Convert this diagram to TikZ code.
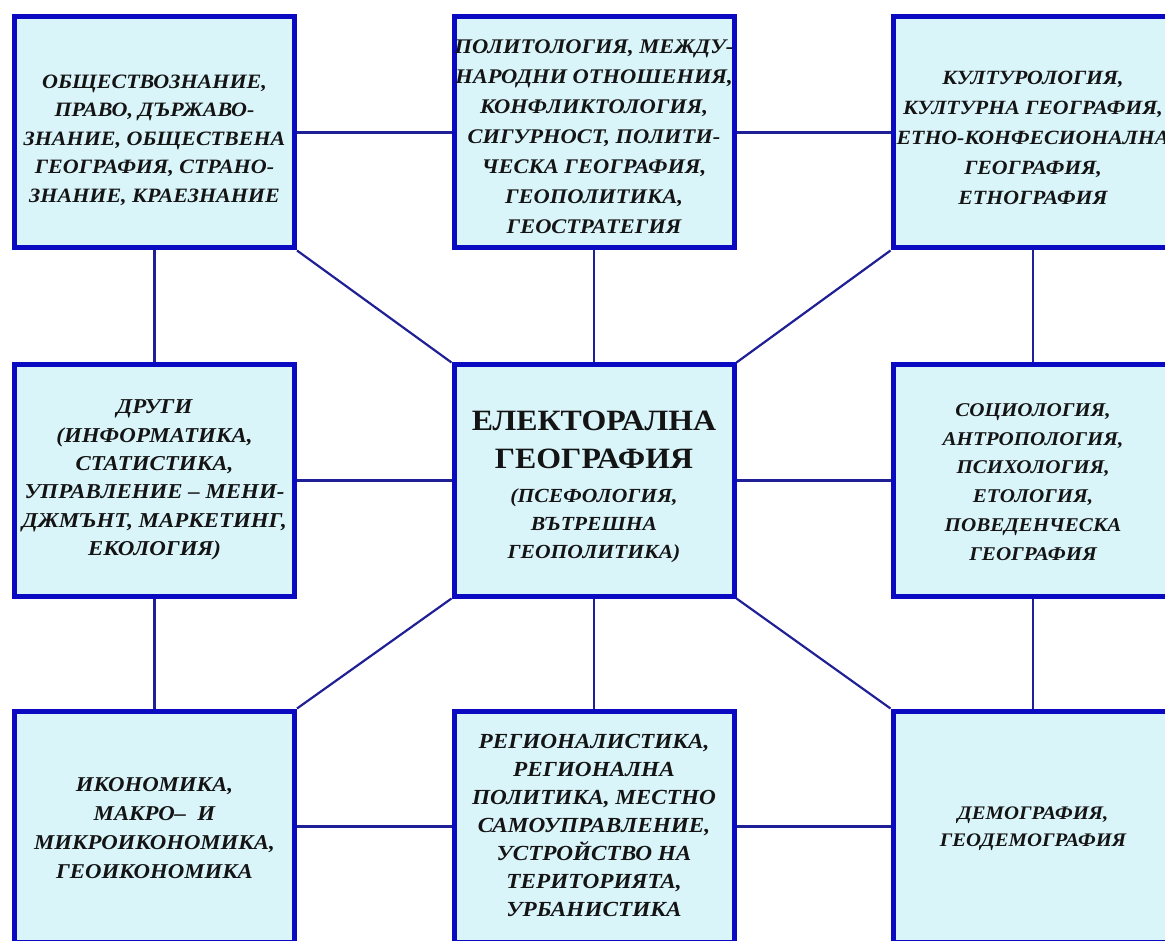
\documentclass[tikz,border=0pt]{standalone}
\usepackage{fontspec}
\setmainfont{Liberation Serif}
\newfontfamily\boxfont[FakeStretch=1.08]{Liberation Serif}
\definecolor{boxfill}{RGB}{218,245,250}
\definecolor{boxblue}{RGB}{10,10,195}
\definecolor{linkblue}{RGB}{32,32,150}
\definecolor{txt}{RGB}{20,20,20}
\newcommand{\myboxtext}[2]{\boxfont\fontsize{#1}{#2}\selectfont\bfseries\itshape}
\begin{document}
\begin{tikzpicture}[x=1pt,y=-1pt,
  box/.style={draw=boxblue, fill=boxfill, line width=5pt, minimum width=280pt, minimum height=231pt, inner sep=0pt},
  lbl/.style={align=center, inner sep=0pt, text=txt},
  link/.style={draw=linkblue, line width=2.2pt}]
\useasboundingbox (0,0) rectangle (1165,941);
\clip (0,0) rectangle (1165,941);
% boxes
\node[box] (tl) at (154.5,132.5) {};
\node[box] (tc) at (594,132.5) {};
\node[box] (tr) at (1033,132.5) {};
\node[box] (ml) at (154.5,480.5) {};
\node[box] (c)  at (594,480.5) {};
\node[box] (mr) at (1033,480.5) {};
\node[box] (bl) at (154.5,826.5) {};
\node[box] (bc) at (594,826.5) {};
\node[box] (br) at (1033,826.5) {};
% connectors
\draw[link] (tl.east) -- (tc.west);
\draw[link] (tc.east) -- (tr.west);
\draw[link] (ml.east) -- (c.west);
\draw[link] (c.east) -- (mr.west);
\draw[link] (bl.east) -- (bc.west);
\draw[link] (bc.east) -- (br.west);
\draw[link] (tl.south) -- (ml.north);
\draw[link] (ml.south) -- (bl.north);
\draw[link] (tc.south) -- (c.north);
\draw[link] (c.south) -- (bc.north);
\draw[link] (tr.south) -- (mr.north);
\draw[link] (mr.south) -- (br.north);
\draw[link] (tl.south east) -- (c.north west);
\draw[link] (tr.south west) -- (c.north east);
\draw[link] (bl.north east) -- (c.south west);
\draw[link] (br.north west) -- (c.south east);
% texts
\node[lbl, font=\myboxtext{20.4}{28.5}] (tlt) at (154.5,140) {ОБЩЕСТВОЗНАНИЕ,\\ПРАВО, ДЪРЖАВО-\\ЗНАНИЕ, ОБЩЕСТВЕНА\\ГЕОГРАФИЯ, СТРАНО-\\ЗНАНИЕ, КРАЕЗНАНИЕ};
\node[lbl, font=\myboxtext{20.8}{30}] (tct) at (594,137) {ПОЛИТОЛОГИЯ, МЕЖДУ-\\НАРОДНИ ОТНОШЕНИЯ,\\КОНФЛИКТОЛОГИЯ,\\СИГУРНОСТ, ПОЛИТИ-\\ЧЕСКА ГЕОГРАФИЯ,\\ГЕОПОЛИТИКА,\\ГЕОСТРАТЕГИЯ};
\node[lbl, font=\myboxtext{20.2}{30}] (trt) at (1033,138) {КУЛТУРОЛОГИЯ,\\КУЛТУРНА ГЕОГРАФИЯ,\\\makebox[250pt][c]{ЕТНО-КОНФЕСИОНАЛНА}\\ГЕОГРАФИЯ,\\ЕТНОГРАФИЯ};
\node[lbl, font=\myboxtext{21.2}{28.3}] (mlt) at (154.5,480) {ДРУГИ\\(ИНФОРМАТИКА,\\СТАТИСТИКА,\\УПРАВЛЕНИЕ – МЕНИ-\\ДЖМЪНТ, МАРКЕТИНГ,\\ЕКОЛОГИЯ)};
\node[lbl, font={\boxfont\fontsize{29.5}{38}\selectfont\bfseries}] (ct1) at (594,440) {ЕЛЕКТОРАЛНА\\ГЕОГРАФИЯ};
\node[lbl, font=\myboxtext{20}{28}] (ct2) at (594,526) {(ПСЕФОЛОГИЯ,\\ВЪТРЕШНА\\ГЕОПОЛИТИКА)};
\node[lbl, font=\myboxtext{19.5}{28.9}] (mrt) at (1033,482) {СОЦИОЛОГИЯ,\\АНТРОПОЛОГИЯ,\\ПСИХОЛОГИЯ,\\ЕТОЛОГИЯ,\\ПОВЕДЕНЧЕСКА\\ГЕОГРАФИЯ};
\node[lbl, font=\myboxtext{21.1}{28.8}] (blt) at (154.5,828) {ИКОНОМИКА,\\МАКРО–\ \ И\\МИКРОИКОНОМИКА,\\ГЕОИКОНОМИКА};
\node[lbl, font=\myboxtext{21.5}{28}] (bct) at (594,825) {РЕГИОНАЛИСТИКА,\\РЕГИОНАЛНА\\ПОЛИТИКА, МЕСТНО\\САМОУПРАВЛЕНИЕ,\\УСТРОЙСТВО НА\\ТЕРИТОРИЯТА,\\УРБАНИСТИКА};
\node[lbl, font=\myboxtext{19.2}{27}] (brt) at (1033,829) {ДЕМОГРАФИЯ,\\ГЕОДЕМОГРАФИЯ};
\end{tikzpicture}
\end{document}
